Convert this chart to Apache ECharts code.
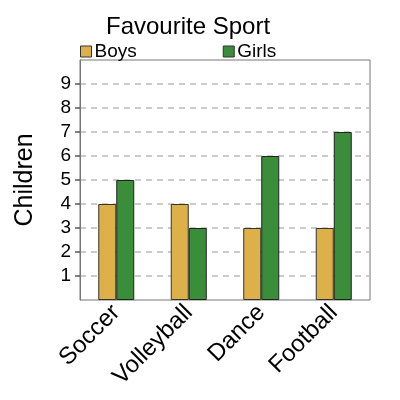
<!doctype html>
<html lang="en">
    <head>
        <meta charset="UTF-8">
        <title>Favourite Sport</title>
        <script src="https://cdn.jsdelivr.net/npm/echarts@6/dist/echarts.min.js"></script>
        <style>
            html, body { margin: 0; padding: 0; background: #fff; }
        </style>
    </head>
    <body>
        <div id="main" style="width: 400px;height:400px;"></div>
        <script type="text/javascript">
            // data
            var sports = ['Soccer', 'Volleyball', 'Dance', 'Football'];
            var boys = [4, 4, 3, 3];
            var girls = [5, 3, 6, 7];
            var yTicks = [1, 2, 3, 4, 5, 6, 7, 8, 9];

            var myChart = echarts.init(document.getElementById('main'));

            var option = {
                backgroundColor: '#fff',
                textStyle: { fontFamily: 'Liberation Sans' },
                title: {
                    text: 'Favourite Sport',
                    left: 101,
                    top: 10,
                    textStyle: { fontSize: 24, fontWeight: 'normal', color: '#000' }
                },
                legend: {
                    data: ['Boys', 'Girls'],
                    left: 75,
                    top: 37,
                    icon: 'rect',
                    itemWidth: 11,
                    itemHeight: 11,
                    itemGap: 86,
                    itemStyle: { borderColor: '#333', borderWidth: 1 },
                    textStyle: { fontSize: 19, color: '#000', padding: [0, 0, 0, -2] }
                },
                grid: {
                    left: 80,
                    right: 30,
                    top: 60,
                    bottom: 100,
                    show: true,
                    borderColor: '#777',
                    borderWidth: 1
                },
                xAxis: {
                    type: 'category',
                    data: sports,
                    axisLine: { show: false },
                    axisTick: { show: false },
                    axisLabel: {
                        rotate: 45,
                        fontSize: 24,
                        color: '#000',
                        margin: 9
                    }
                },
                yAxis: {
                    type: 'value',
                    min: 0,
                    max: 10,
                    interval: 1,
                    name: 'Children',
                    nameLocation: 'middle',
                    nameGap: 42,
                    nameTextStyle: { fontSize: 25, color: '#000' },
                    axisLine: { show: true, lineStyle: { color: '#777', width: 1 } },
                    axisTick: {
                        show: true,
                        length: 5,
                        customValues: yTicks,
                        lineStyle: { color: '#555', width: 1.5 }
                    },
                    axisLabel: {
                        fontSize: 19,
                        color: '#000',
                        margin: 9,
                        customValues: yTicks
                    },
                    splitLine: {
                        lineStyle: { type: [6, 5], color: '#bbb', width: 1.5 }
                    }
                },
                series: [
                    {
                        name: 'Boys',
                        type: 'bar',
                        data: boys,
                        barWidth: 18,
                        barGap: '0%',
                        itemStyle: { color: '#ddb04a', borderColor: '#333', borderWidth: 1 }
                    },
                    {
                        name: 'Girls',
                        type: 'bar',
                        data: girls,
                        barWidth: 18,
                        itemStyle: { color: '#3a8e3a', borderColor: '#222', borderWidth: 1 }
                    }
                ]
            };

            myChart.setOption(option);
        </script>
    </body>
</html>
